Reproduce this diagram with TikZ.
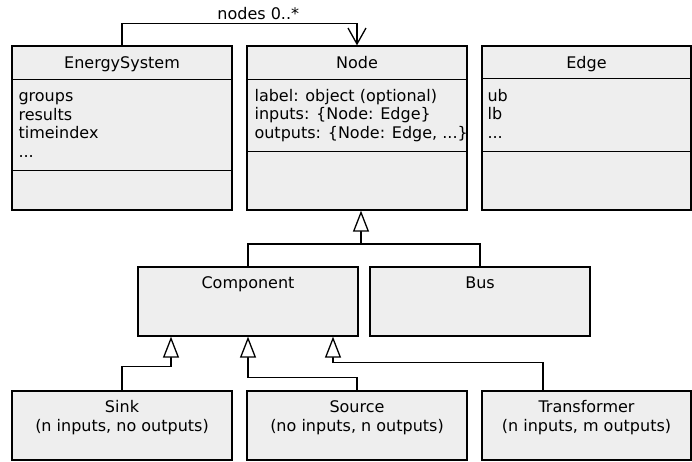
\documentclass[tikz,border=0pt]{standalone}
\usepackage{fontspec}
\setmainfont{DejaVu Sans}
\usetikzlibrary{arrows.meta}
\definecolor{classgray}{RGB}{238,238,238}

\begin{document}
\begin{tikzpicture}[x=1pt, y=-1pt, font=\fontsize{16}{18.7}\selectfont]
    \tikzstyle{umlclass} = [rectangle, draw, line width=1.3pt, fill=classgray, inner sep=0pt]
    \tikzstyle{classname} = [anchor=north, inner sep=0pt, align=center]
    \tikzstyle{classattr} = [anchor=north west, inner sep=0pt, align=left]
    \tikzstyle{divider} = [line width=1.3pt]
    \tikzstyle{assoc} = [line width=1.3pt, -{Straight Barb[length=16pt, width=18pt]}]
    \tikzstyle{inherit} = [line width=1.3pt, -{Triangle[open, length=21pt, width=16pt, fill=white]}]

    \useasboundingbox (0,0) rectangle (692,462);

    % top row
    \node[umlclass, minimum width=220pt, minimum height=164pt] (esys) at (122,128) {};
    \node[umlclass, minimum width=220pt, minimum height=164pt] (node) at (357,128) {};
    \node[umlclass, minimum width=209pt, minimum height=164pt] (edge) at (586.5,128) {};

    \node[classname] (esysname) at ([yshift=-11pt]esys.north) {EnergySystem};
    \node[classname] (nodename) at ([yshift=-11pt]node.north) {Node};
    \node[classname] (edgename) at ([yshift=-11pt]edge.north) {Edge};

    \draw[divider] ([yshift=-34pt]esys.north west) -- ([yshift=-34pt]esys.north east);
    \draw[divider] ([yshift=-125pt]esys.north west) -- ([yshift=-125pt]esys.north east);
    \draw[divider] ([yshift=-34pt]node.north west) -- ([yshift=-34pt]node.north east);
    \draw[divider] ([yshift=-106pt]node.north west) -- ([yshift=-106pt]node.north east);
    \draw[divider] ([yshift=-33pt]edge.north west) -- ([yshift=-33pt]edge.north east);
    \draw[divider] ([yshift=-106pt]edge.north west) -- ([yshift=-106pt]edge.north east);

    \node[classattr] (esysattr) at ([xshift=7pt, yshift=-47pt]esys.north west) {groups\\results\\timeindex\\...};
    \node[classattr] (nodeattr) at ([xshift=8pt, yshift=-43.5pt]node.north west) {label: object (optional)\\inputs: \{Node: Edge\}\\outputs: \{Node: Edge, ...\}};
    \node[classattr] (edgeattr) at ([xshift=6pt, yshift=-43.5pt]edge.north west) {ub\\lb\\...};

    % middle row
    \node[umlclass, minimum width=220pt, minimum height=69pt] (comp) at (248,301.5) {};
    \node[umlclass, minimum width=220pt, minimum height=69pt] (bus) at (480,301.5) {};
    \node[classname] (compname) at ([yshift=-10.3pt]comp.north) {Component};
    \node[classname] (busname) at ([yshift=-10.3pt]bus.north) {Bus};

    % bottom row
    \node[umlclass, minimum width=220pt, minimum height=69pt] (sink) at (122,425.5) {};
    \node[umlclass, minimum width=220pt, minimum height=69pt] (source) at (357,425.5) {};
    \node[umlclass, minimum width=209pt, minimum height=69pt] (trafo) at (586.5,425.5) {};
    \node[classname] (sinkname) at ([yshift=-10pt]sink.north) {Sink\\(n inputs, no outputs)};
    \node[classname] (sourcename) at ([yshift=-10pt]source.north) {Source\\(no inputs, n outputs)};
    \node[classname] (trafoname) at ([yshift=-10pt]trafo.north) {Transformer\\(n inputs, m outputs)};

    % association
    \draw[assoc] (esys.north) -- ++(0,-22) -| node[pos=0.29, above, inner sep=3pt] (assoclabel) {nodes 0..*} (node.north);

    % inheritance
    \coordinate (nodejoin) at (361,244);
    \draw[line width=1.3pt] (comp.north) |- (nodejoin);
    \draw[line width=1.3pt] (bus.north) |- (nodejoin);
    \draw[inherit] (nodejoin) -- (nodejoin |- node.south);

    \draw[inherit] (sink.north) -- ++(0,-24) -| ([xshift=-77pt]comp.south);
    \draw[inherit] (source.north) -- ++(0,-13) -| (comp.south);
    \draw[inherit] ([xshift=-43.5pt]trafo.north) -- ++(0,-28) -| ([xshift=85pt]comp.south);
\end{tikzpicture}
\end{document}
